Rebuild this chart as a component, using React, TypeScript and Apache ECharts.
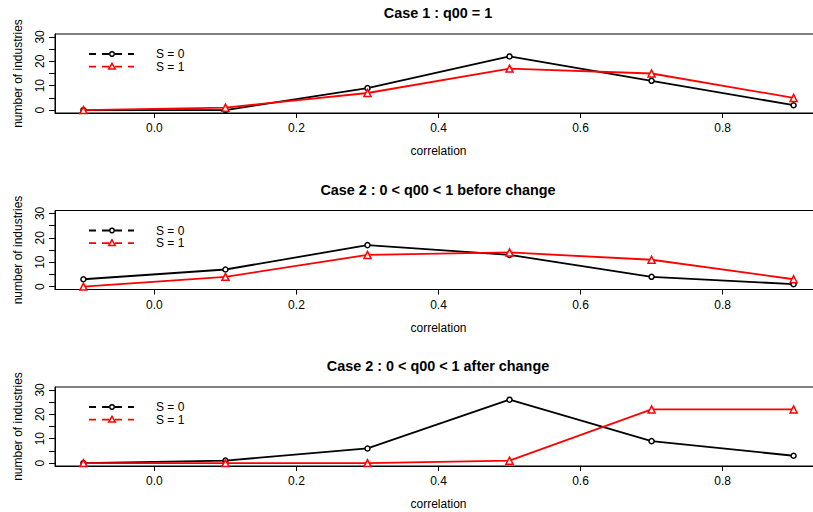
import React, { useEffect, useRef } from "react";
import * as echarts from "echarts";

const correlation = [-0.1, 0.1, 0.3, 0.5, 0.7, 0.9];
const xTicks = [0, 0.2, 0.4, 0.6, 0.8];
const yTicks = [0, 10, 20, 30];
const yMinorTicks = [0, 5, 10, 15, 20, 25, 30];
const titles = [
  "Case 1 : q00 = 1",
  "Case 2 : 0 < q00 < 1 before change",
  "Case 2 : 0 < q00 < 1 after change",
];
const case1S0 = [0, 0, 9, 22, 12, 2];
const case1S1 = [0, 1, 7, 17, 15, 5];
const case2BeforeS0 = [3, 7, 17, 13, 4, 1];
const case2BeforeS1 = [0, 4, 13, 14, 11, 3];
const case2AfterS0 = [0, 1, 6, 26, 9, 3];
const case2AfterS1 = [0, 0, 0, 1, 22, 22];
const legendLabels = ["S = 0", "S = 1"];

const panels = [
  [case1S0, case1S1],
  [case2BeforeS0, case2BeforeS1],
  [case2AfterS0, case2AfterS1],
];

const FONT = "'Liberation Sans', Arial, Helvetica, sans-serif";

export default function App() {
  const ref = useRef<HTMLDivElement>(null);
  useEffect(() => {
    if (!ref.current) return;
    const chart = echarts.init(ref.current, null, { renderer: "svg" });
    const tops = [34, 210.5, 387];
    const gridH = 79;
    const left = 55;
    const width = 767;
    const plotCenterX = 438;

    const grids: any[] = [];
    const xAxes: any[] = [];
    const yAxes: any[] = [];
    const series: any[] = [];
    const graphics: any[] = [];

    panels.forEach((pair, i) => {
      const top = tops[i];
      grids.push({
        left,
        width,
        top,
        height: gridH,
        outerBoundsMode: "none",
        containLabel: false,
        show: true,
        borderColor: "#000",
        borderWidth: 1,
        backgroundColor: "transparent",
      });
      xAxes.push({
        type: "value",
        gridIndex: i,
        min: -0.14,
        max: 0.94,
        name: "correlation",
        nameLocation: "middle",
        nameGap: 32,
        nameTextStyle: { fontFamily: FONT, fontSize: 12, color: "#000" },
        axisLine: { show: true, onZero: false, lineStyle: { color: "#000", width: 1 } },
        axisTick: {
          show: true,
          customValues: xTicks,
          length: 5,
          lineStyle: { color: "#000" },
        },
        axisLabel: {
          customValues: xTicks,
          formatter: (v: number) => v.toFixed(1),
          fontFamily: FONT,
          fontSize: 12,
          color: "#000",
          margin: 9,
        },
        splitLine: { show: false },
      });
      yAxes.push({
        type: "value",
        gridIndex: i,
        min: -1.2,
        max: 31.2,
        name: "number of industries",
        nameLocation: "middle",
        nameRotate: 90,
        nameGap: 31,
        nameTextStyle: { fontFamily: FONT, fontSize: 12, color: "#000" },
        axisLine: { show: true, onZero: false, lineStyle: { color: "#000", width: 1 } },
        axisTick: {
          show: true,
          customValues: yMinorTicks,
          length: 6,
          lineStyle: { color: "#000" },
        },
        axisLabel: {
          customValues: yTicks,
          rotate: 90,
          fontFamily: FONT,
          fontSize: 12,
          color: "#000",
          margin: 9,
        },
        splitLine: { show: false },
      });
      const colors = ["#000000", "#ff0000"];
      pair.forEach((vals, k) => {
        series.push({
          type: "line",
          name: legendLabels[k],
          xAxisIndex: i,
          yAxisIndex: i,
          data: correlation.map((x, j) => [x, vals[j]]),
          symbol: k === 0 ? "circle" : "triangle",
          symbolSize: k === 0 ? 5 : 7,
          showAllSymbol: true,
          lineStyle: { color: colors[k], width: 1.8 },
          itemStyle: { color: "#fff", borderColor: colors[k], borderWidth: 1.5 },
          z: 3 + k,
        });
      });

      graphics.push({
        type: "text",
        x: plotCenterX,
        y: top - 21,
        style: {
          text: titles[i],
          fontFamily: FONT,
          fontSize: 14.4,
          fontWeight: "bold",
          fill: "#000",
          textAlign: "center",
          textVerticalAlign: "middle",
        },
      });
      const colorsL = ["#000000", "#ff0000"];
      [0, 1].forEach((k) => {
        const ly = top + 20 + k * 12.6;
        graphics.push({
          type: "line",
          shape: { x1: 89, y1: ly, x2: 134, y2: ly },
          style: { stroke: colorsL[k], lineWidth: 1.8, lineDash: [7, 6] },
          z: 10,
        });
        if (k === 0) {
          graphics.push({
            type: "circle",
            shape: { cx: 112, cy: ly, r: 2.3 },
            style: { fill: "#fff", stroke: colorsL[k], lineWidth: 1.5 },
            z: 11,
          });
        } else {
          graphics.push({
            type: "polygon",
            shape: {
              points: [
                [112, ly - 3.3],
                [115.3, ly + 2.5],
                [108.7, ly + 2.5],
              ],
            },
            style: { fill: "#fff", stroke: colorsL[k], lineWidth: 1.5 },
            z: 11,
          });
        }
        graphics.push({
          type: "text",
          x: 156,
          y: ly,
          style: {
            text: legendLabels[k],
            fontFamily: FONT,
            fontSize: 12,
            fill: "#000",
            textAlign: "left",
            textVerticalAlign: "middle",
          },
          z: 11,
        });
      });
    });

    chart.setOption({
      animation: false,
      backgroundColor: "#fff",
      grid: grids,
      xAxis: xAxes,
      yAxis: yAxes,
      series,
      graphic: graphics,
    });
    return () => chart.dispose();
  }, []);
  return (
    <div
      ref={ref}
      style={{ position: "fixed", left: 0, top: 0, width: 813, height: 512 }}
    />
  );
}
